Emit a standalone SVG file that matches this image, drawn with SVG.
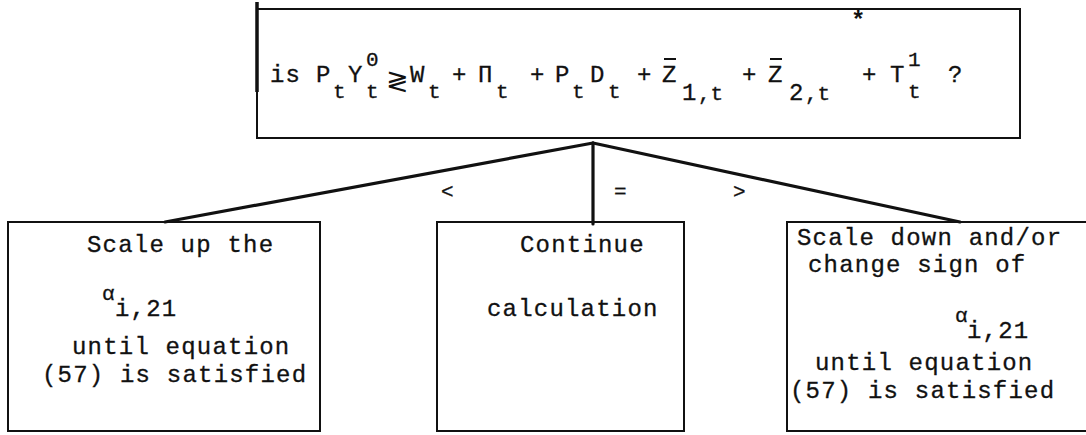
<svg xmlns="http://www.w3.org/2000/svg" width="1086" height="435" viewBox="0 0 1086 435">
<style>
.t{font-family:"Liberation Mono","DejaVu Sans Mono",monospace;font-size:24px;letter-spacing:1.2px;fill:#111;stroke:#111;stroke-width:0.3}
.s{font-family:"Liberation Mono","DejaVu Sans Mono",monospace;font-size:21px;fill:#111;stroke:#111;stroke-width:0.3}
.box{fill:none;stroke:#111;stroke-width:2}
.edge{stroke:#111;stroke-width:3.2;fill:none;stroke-linecap:round}
</style>
<rect width="1086" height="435" fill="#fff"/>
<g id="question">
<rect class="box" x="257" y="9" width="763" height="129"/>
<line x1="257" y1="2" x2="257" y2="92" stroke="#111" stroke-width="3.5"/>
<text class="t" x="270" y="82">is</text>
<text class="t" x="316" y="82">P</text><text class="s" x="333" y="98">t</text>
<text class="t" x="348" y="82">Y</text><text class="s" x="366" y="66">0</text><text class="s" x="366" y="98">t</text>
<text x="386" y="90" style="font-family:'DejaVu Sans',sans-serif;font-size:27px;fill:#111">≷</text>
<text class="t" x="410" y="82">W</text><text class="s" x="428" y="98">t</text>
<text class="t" x="452" y="82">+</text>
<text class="t" x="478" y="82">Π</text><text class="s" x="496" y="98">t</text>
<text class="t" x="530" y="82">+</text>
<text class="t" x="555" y="82">P</text><text class="s" x="572" y="98">t</text>
<text class="t" x="590" y="82">D</text><text class="s" x="608" y="98">t</text>
<text class="t" x="637" y="82">+</text>
<text class="t" x="662" y="82">Z</text><line x1="664" y1="59" x2="676" y2="59" stroke="#111" stroke-width="2"/><text class="t" x="682" y="100">1</text><text class="s" x="698" y="100">,t</text>
<text class="t" x="742" y="82">+</text>
<text class="t" x="768" y="82">Z</text><line x1="770" y1="59" x2="782" y2="59" stroke="#111" stroke-width="2"/><text class="t" x="789" y="100">2</text><text class="s" x="805" y="100">,t</text>
<text x="851" y="28" style="font-family:'Liberation Mono',monospace;font-size:24px;font-weight:bold;fill:#111">*</text>
<text class="t" x="862" y="82">+</text>
<text class="t" x="890" y="82">T</text><text class="s" x="908" y="66">1</text><text class="s" x="908" y="98">t</text>
<text class="t" x="948" y="82">?</text>
</g>
<g id="connectors">
<line class="edge" x1="593" y1="143" x2="165" y2="222"/>
<line class="edge" x1="593" y1="143" x2="593" y2="224"/>
<line class="edge" x1="593" y1="143" x2="960" y2="222"/>
<text class="s" x="441" y="198">&lt;</text>
<text class="s" x="614" y="198">=</text>
<text class="s" x="733" y="198">&gt;</text>
</g>
<g id="scale-up">
<rect class="box" x="8" y="222" width="312" height="209"/>
<text class="t" x="87" y="252">Scale up the</text>
<text class="s" x="102" y="300">α</text><text class="t" x="115" y="316">i,21</text>
<text class="t" x="72" y="354">until equation</text>
<text class="t" x="42" y="382">(57) is satisfied</text>
</g>
<g id="continue">
<rect class="box" x="437" y="222" width="247" height="209"/>
<text class="t" x="520" y="252">Continue</text>
<text class="t" x="487" y="316">calculation</text>
</g>
<g id="scale-down">
<path class="box" d="M1090 222 H787 V431 H1090"/>
<text class="t" x="797" y="245">Scale down and/or</text>
<text class="t" x="808" y="272">change sign of</text>
<text class="s" x="955" y="322">α</text><text class="t" x="967" y="338">i,21</text>
<text class="t" x="815" y="370">until equation</text>
<text class="t" x="790" y="398">(57) is satisfied</text>
</g>
</svg>
